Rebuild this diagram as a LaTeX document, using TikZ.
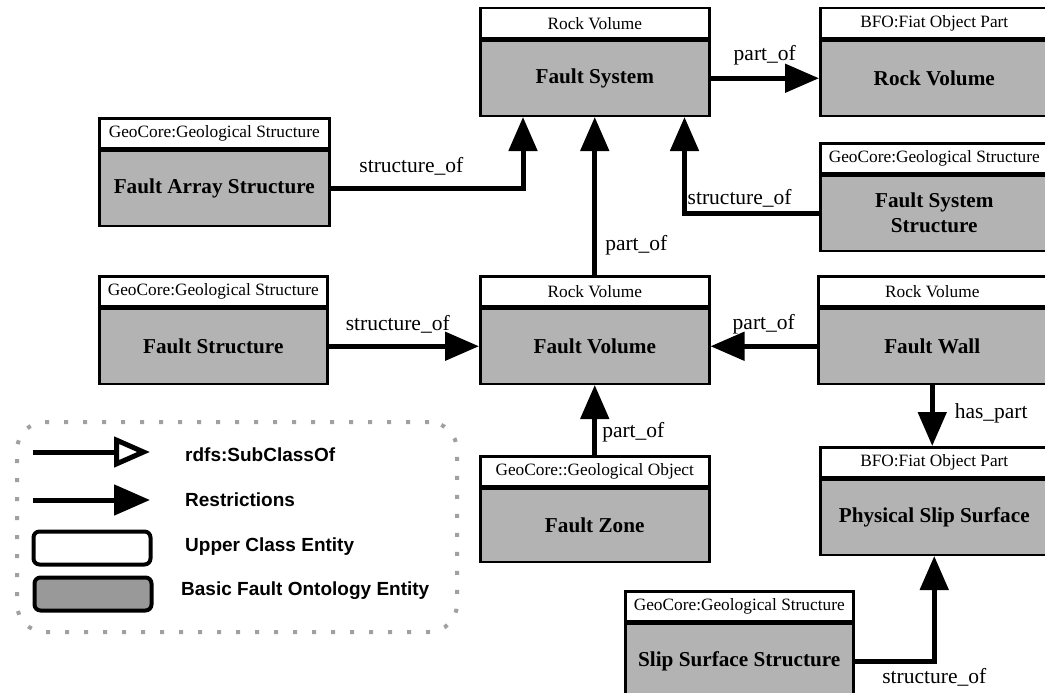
\documentclass[tikz,border=0pt]{standalone}
\usepackage{fontspec}
\setmainfont{Liberation Serif}
\newfontfamily\legfont{Liberation Sans}
\usetikzlibrary{arrows.meta,calc}
\definecolor{bodygray}{HTML}{B3B3B3}
\definecolor{leggray}{HTML}{999999}
\definecolor{dotgray}{HTML}{A0A0A0}
\tikzset{
  hdr/.style={draw, line width=2.5pt, fill=white, minimum height=30pt, inner sep=0pt,
    font=\fontsize{17.3}{20}\selectfont, anchor=north west},
  bod/.style={draw, line width=2.5pt, fill=bodygray, minimum height=75pt, inner sep=0pt,
    align=center, font=\bfseries\fontsize{21.2}{25}\selectfont, anchor=north},
  rel/.style={line width=5pt, -{Triangle[length=34pt,width=28pt]}},
  lbl/.style={font=\fontsize{21.5}{24}\selectfont, inner sep=2pt},
  legtxt/.style={font=\legfont\bfseries\fontsize{19}{22}\selectfont, anchor=west, inner sep=0pt},
  legbox/.style={draw, line width=4pt, rounded corners=6pt, minimum width=117pt, minimum height=33pt, inner sep=0pt}
}
\begin{document}
\begin{tikzpicture}[x=1pt,y=-1pt]
\useasboundingbox (0,0) rectangle (1045,693);
% Fault System
\node[hdr, minimum width=229pt] (fsh) at (479,7) {Rock Volume};
\node[bod, minimum width=229pt] (fs) at (fsh.south) {Fault System};
% Rock Volume
\node[hdr, minimum width=228pt] (rvh) at (819,7) {BFO:Fiat Object Part};
\node[bod, minimum width=228pt] (rv) at (rvh.south) {Rock Volume};
% Fault Array Structure
\node[hdr, minimum width=230pt] (fash) at (98,117) {GeoCore:Geological Structure};
\node[bod, minimum width=230pt] (fas) at (fash.south) {Fault Array Structure};
% Fault System Structure
\node[hdr, minimum width=228pt] (fssh) at (819,142) {GeoCore:Geological Structure};
\node[bod, minimum width=228pt] (fss) at (fssh.south) {Fault System\\Structure};
% Fault Structure
\node[hdr, minimum width=228pt] (fsth) at (98,275) {GeoCore:Geological Structure};
\node[bod, minimum width=228pt] (fst) at (fsth.south) {Fault Structure};
% Fault Volume
\node[hdr, minimum width=229pt] (fvh) at (479,275) {Rock Volume};
\node[bod, minimum width=229pt] (fv) at (fvh.south) {Fault Volume};
% Fault Wall
\node[hdr, minimum width=228pt] (fwh) at (817,275) {Rock Volume};
\node[bod, minimum width=228pt] (fw) at (fwh.south) {Fault Wall};
% Fault Zone
\node[hdr, minimum width=229pt] (fzh) at (479,455) {GeoCore::Geological Object};
\node[bod, minimum width=229pt, minimum height=73pt] (fz) at (fzh.south) {Fault Zone};
% Physical Slip Surface
\node[hdr, minimum width=228pt] (pssh) at (819,446) {BFO:Fiat Object Part};
\node[bod, minimum width=228pt] (pss) at (pssh.south) {Physical Slip Surface};
% Slip Surface Structure
\node[hdr, minimum width=228pt] (sssh) at (624,590) {GeoCore:Geological Structure};
\node[bod, minimum width=228pt] (sss) at (sssh.south) {Slip Surface Structure};

% Connectors
\draw[rel] (fs.east) -- node[lbl, above=9pt] (l1) {part\_of} (rv.west);
\draw[rel] (fas.east) -| node[lbl, above=8pt, pos=0.21] (l2) {structure\_of} ([xshift=44pt]fs.south west);
\draw[rel] (fss.west) -| node[lbl, above=1pt, pos=0.295] (l3) {structure\_of} ([xshift=-26pt]fs.south east);
\draw[rel] (fvh.north) -- node[lbl, right=6pt, pos=0.19] (l4) {part\_of} (fs.south);
\draw[rel] (fst.east) -- node[lbl, above=8pt, pos=0.46] (l5) {structure\_of} (fv.west);
\draw[rel] (fw.west) -- node[lbl, above=8pt] (l6) {part\_of} (fv.east);
\draw[rel] (fzh.north) -- node[lbl, right=3pt, pos=0.32] (l7) {part\_of} (fv.south);
\draw[rel] (fw.south) -- node[lbl, right=18pt, pos=0.47] (l8) {has\_part} (fw.south |- pssh.north);
\draw[rel] (sss.east) -| node[lbl, below=3pt, pos=0.5] (l9) {structure\_of} (pss.south);

% Legend
\node[draw=dotgray, line width=4pt, dash pattern=on 4pt off 15pt, rounded corners=28pt,
  minimum width=440pt, minimum height=210pt, anchor=north west] (legend) at (15,420) {};
\coordinate (a1s) at (33,452);
\coordinate (a1e) at (150,452);
\draw[line width=5pt, -{Triangle[open, length=36pt, width=30pt]}] (a1s) -- (a1e);
\node[legtxt] (t1) at (185,455) {rdfs:SubClassOf};
\coordinate (a2s) at (33,500);
\coordinate (a2e) at (150,500);
\draw[line width=5pt, -{Triangle[length=36pt, width=30pt]}] (a2s) -- (a2e);
\node[legtxt] (t2) at (185,500) {Restrictions};
\node[legbox, fill=white] (b1) at (92,548) {};
\node[legtxt] (t3) at (185,547) {Upper Class Entity};
\node[legbox, fill=leggray] (b2) at (93,594) {};
\node[legtxt] (t4) at (181,591) {Basic Fault Ontology Entity};
\end{tikzpicture}
\end{document}
